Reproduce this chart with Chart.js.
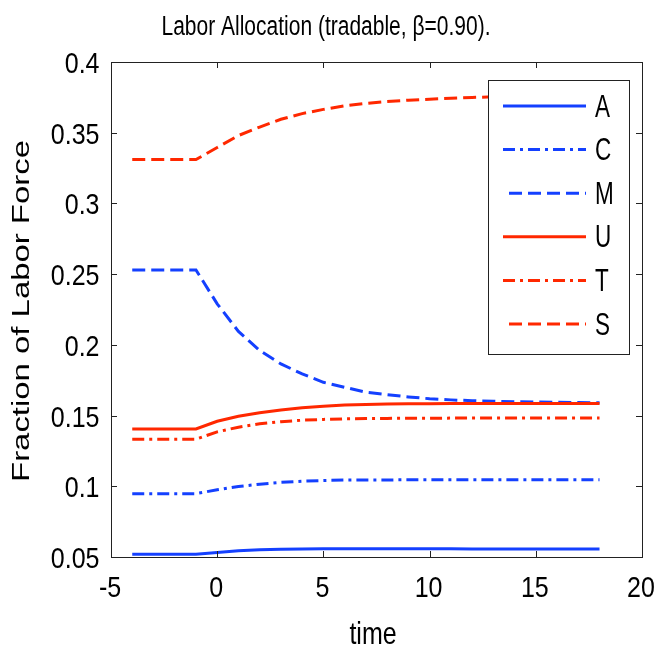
<!DOCTYPE html>
<html>
<head>
<meta charset="utf-8">
<script src="https://cdn.jsdelivr.net/npm/chart.js@4/dist/chart.umd.min.js"></script>
<style>
  html, body { margin: 0; padding: 0; background: #fff; }
  canvas { display: block; }
</style>
</head>
<body>
<canvas id="myChart" width="661" height="652"></canvas>
<script>
// time axis (periods), shock happens after t = -1
const times = [-4, -3, -2, -1, 0, 1, 2, 3, 4, 5, 6, 7, 8, 9, 10, 11, 12, 13, 14, 15, 16, 17, 18];

// labor shares per sector
const seriesA = [0.052, 0.052, 0.052, 0.052, 0.0532, 0.0544, 0.0551, 0.0555, 0.0557, 0.0559, 0.0559, 0.0559, 0.0559, 0.0559, 0.0559, 0.0559, 0.0557, 0.0557, 0.0557, 0.0557, 0.0557, 0.0557, 0.0557];
const seriesC = [0.0948, 0.0948, 0.0948, 0.0948, 0.0975, 0.0998, 0.1015, 0.1028, 0.1036, 0.1041, 0.1044, 0.1045, 0.1045, 0.1046, 0.1046, 0.1046, 0.1046, 0.1046, 0.1046, 0.1046, 0.1046, 0.1046, 0.1046];
const seriesM = [0.253, 0.253, 0.253, 0.253, 0.229, 0.2095, 0.196, 0.1865, 0.1795, 0.1735, 0.170, 0.1665, 0.1648, 0.1632, 0.1619, 0.1611, 0.1605, 0.1601, 0.1598, 0.1596, 0.1594, 0.1592, 0.1591];
const seriesU = [0.1405, 0.1405, 0.1405, 0.1405, 0.146, 0.1495, 0.152, 0.154, 0.1555, 0.1566, 0.1574, 0.1578, 0.1581, 0.1583, 0.1584, 0.1585, 0.1585, 0.1585, 0.1585, 0.1585, 0.1585, 0.1585, 0.1585];
const seriesT = [0.1333, 0.1333, 0.1333, 0.1333, 0.1385, 0.1418, 0.1442, 0.1457, 0.1467, 0.1473, 0.1477, 0.1479, 0.148, 0.1481, 0.1481, 0.1482, 0.1482, 0.1482, 0.1482, 0.1482, 0.1482, 0.1482, 0.1482];
const seriesS = [0.331, 0.331, 0.331, 0.331, 0.3395, 0.348, 0.354, 0.3595, 0.3635, 0.3665, 0.369, 0.3707, 0.372, 0.373, 0.3737, 0.3743, 0.3749, 0.3754, 0.3758, 0.3761, 0.3763, 0.3765, 0.3766];

const seriesNames = ['A', 'C', 'M', 'U', 'T', 'S'];

// ticks
const xTicks = [-5, 0, 5, 10, 15, 20];
const xTickLabels = ['-5', '0', '5', '10', '15', '20'];
const yTicks = [0.05, 0.1, 0.15, 0.2, 0.25, 0.3, 0.35, 0.4];
const yTickLabels = ['0.05', '0.1', '0.15', '0.2', '0.25', '0.3', '0.35', '0.4'];

const chartTitle = 'Labor Allocation (tradable, β=0.90).';
const xTitle = 'time';
const yTitle = 'Fraction of Labor Force';

const BLUE = '#1440ff';
const RED = '#ff2800';
const DASH = [13, 6];
const DASHDOT = [12, 5, 3, 5];
const SANS = "'Liberation Sans', Arial, Helvetica, sans-serif";

function toPoints(arr) {
	return times.map(function(t, i) { return { x: t, y: arr[i] }; });
}

const allSeries = [seriesA, seriesC, seriesM, seriesU, seriesT, seriesS];
const colors = [BLUE, BLUE, BLUE, RED, RED, RED];
const dashes = [[], DASHDOT, DASH, [], DASHDOT, DASH];

const datasets = allSeries.map(function(s, i) {
	return {
		label: seriesNames[i],
		data: toPoints(s),
		borderColor: colors[i],
		borderWidth: 3,
		borderDash: dashes[i],
		pointRadius: 0,
		tension: 0,
		fill: false,
		order: allSeries.length - i  // later series on top, like matlab
	};
});

// text in the original figure is stretched vertically, so scale it
function stretchText(ctx, txt, x, y, size, k, align) {
	ctx.save();
	ctx.translate(x, y);
	ctx.scale(1, k);
	ctx.font = size + 'px ' + SANS;
	ctx.textAlign = align;
	ctx.textBaseline = 'alphabetic';
	ctx.fillText(txt, 0, 0);
	ctx.restore();
}

// box, inward ticks, labels and the opaque legend (matlab style)
const frameAndLegend = {
	id: 'frameAndLegend',
	afterDatasetsDraw: function(chart) {
		const ctx = chart.ctx;
		const a = chart.chartArea;
		const xs = chart.scales.x, ys = chart.scales.y;
		const tl = 6;

		ctx.save();
		ctx.strokeStyle = '#222';
		ctx.lineWidth = 1;
		ctx.setLineDash([]);
		ctx.strokeRect(Math.round(a.left) + 0.5, Math.round(a.top) + 0.5, Math.round(a.right - a.left), Math.round(a.bottom - a.top));

		ctx.beginPath();
		xTicks.forEach(function(v) {
			const px = Math.round(xs.getPixelForValue(v)) + 0.5;
			ctx.moveTo(px, a.bottom); ctx.lineTo(px, a.bottom - tl);
			ctx.moveTo(px, a.top); ctx.lineTo(px, a.top + tl);
		});
		yTicks.forEach(function(v) {
			const py = Math.round(ys.getPixelForValue(v)) + 0.5;
			ctx.moveTo(a.left, py); ctx.lineTo(a.left + tl, py);
			ctx.moveTo(a.right, py); ctx.lineTo(a.right - tl, py);
		});
		ctx.stroke();

		// tick labels
		ctx.fillStyle = '#000';
		xTicks.forEach(function(v, i) {
			stretchText(ctx, xTickLabels[i], xs.getPixelForValue(v) - 1, a.bottom + 40, 25, 1.2, 'center');
		});
		yTicks.forEach(function(v, i) {
			stretchText(ctx, yTickLabels[i], a.left - 11.5, ys.getPixelForValue(v) + 11, 25, 1.2, 'right');
		});

		// titles
		stretchText(ctx, chartTitle, 326, 35, 21, 1.33, 'center');
		stretchText(ctx, xTitle, 373, 644, 25, 1.25, 'center');

		// y axis title, stretched along its length
		ctx.save();
		ctx.translate(28.5, (a.top + a.bottom) / 2 + 1.5);
		ctx.rotate(-Math.PI / 2);
		ctx.scale(1.43, 1);
		ctx.font = '23px ' + SANS;
		ctx.textAlign = 'center';
		ctx.textBaseline = 'alphabetic';
		ctx.fillText(yTitle, 0, 0);
		ctx.restore();

		// legend box
		const lx = 488, ly = 80, lw = 141, lh = 274;
		ctx.fillStyle = '#fff';
		ctx.fillRect(lx, ly, lw, lh);
		ctx.strokeStyle = '#222';
		ctx.strokeRect(lx + 0.5, ly + 0.5, lw, lh);

		chart.data.datasets.forEach(function(ds, i) {
			const y = 106 + i * 43.6;
			const dashed = ds.borderDash.length > 0 && ds.borderDash.length < 4;
			ctx.beginPath();
			ctx.strokeStyle = ds.borderColor;
			ctx.lineWidth = 3;
			ctx.setLineDash(ds.borderDash);
			ctx.moveTo(dashed ? 509 : 503, y);
			ctx.lineTo(586, y);
			ctx.stroke();
			ctx.setLineDash([]);
			ctx.fillStyle = '#000';
			stretchText(ctx, ds.label, 595, y + 10.5, 22.5, 1.4, 'left');
		});
		ctx.restore();
	}
};

const ctx = document.getElementById('myChart');

window.myChart = new Chart(ctx, {
	type: 'line',
	data: { datasets: datasets },
	options: {
		responsive: false,
		animation: false,
		layout: { padding: { left: 0, right: 19, top: 62, bottom: 0 } },
		scales: {
			x: {
				type: 'linear',
				min: -5,
				max: 20,
				afterBuildTicks: function(s) { s.ticks = xTicks.map(function(v) { return { value: v }; }); },
				afterFit: function(s) { s.height = 95; },
				grid: { display: false, drawTicks: false },
				border: { display: false },
				ticks: { display: false }
			},
			y: {
				min: 0.05,
				max: 0.4,
				afterBuildTicks: function(s) { s.ticks = yTicks.map(function(v) { return { value: v }; }); },
				afterFit: function(s) { s.width = 111; },
				grid: { display: false, drawTicks: false },
				border: { display: false },
				ticks: { display: false }
			}
		},
		plugins: {
			legend: { display: false },
			tooltip: { enabled: false },
			title: { display: false }
		}
	},
	plugins: [frameAndLegend]
});
</script>
</body>
</html>
